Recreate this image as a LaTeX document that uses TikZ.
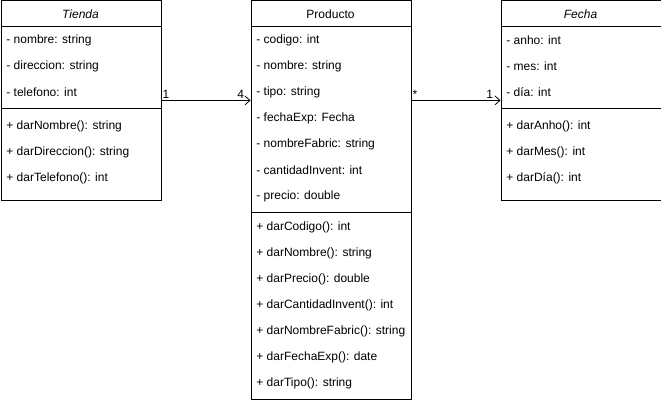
\documentclass[tikz,border=0pt]{standalone}
\usepackage{fontspec}
\setmainfont{Liberation Sans}
\usetikzlibrary{arrows.meta}

\begin{document}
\begin{tikzpicture}[x=1pt, y=-1pt, line width=0.8pt,
        font=\fontsize{12}{14}\selectfont,
        classbox/.style={draw, rectangle, minimum width=160pt, anchor=north west, inner sep=0pt},
        classname/.style={anchor=center, inner sep=0pt},
        member/.style={anchor=west, inner sep=0pt},
        mult/.style={inner sep=1pt},
        assoc/.style={-{Straight Barb[length=5pt, width=9pt]}}]
    \useasboundingbox (0,0) rectangle (661,401);

    % Tienda
    \node[classbox, minimum height=199pt] at (0.5,0.5)   (tienda) {};
    \node[classname] at (80.5,14)   (tiendaname) {\textit{Tienda}};
    \draw (0.5,26.5) -- (160.5,26.5);
    \draw (0.5,108.5) -- (160.5,108.5);
    \node[member] at (6,40)    (t1) {- nombre: string};
    \node[member] at (6,66)    (t2) {- direccion: string};
    \node[member] at (6,92)    (t3) {- telefono: int};
    \node[member] at (6,126)   (t4) {+ darNombre(): string};
    \node[member] at (6,152)   (t5) {+ darDireccion(): string};
    \node[member] at (6,178)   (t6) {+ darTelefono(): int};

    % Producto
    \node[classbox, minimum height=398pt] at (250.5,0.5)   (producto) {};
    \node[classname] at (330.5,14)   (productoname) {Producto};
    \draw (250.5,26.5) -- (410.5,26.5);
    \draw (250.5,212.5) -- (410.5,212.5);
    \node[member] at (256,40)    (p1) {- codigo: int};
    \node[member] at (256,66)    (p2) {- nombre: string};
    \node[member] at (256,92)    (p3) {- tipo: string};
    \node[member] at (256,118)   (p4) {- fechaExp: Fecha};
    \node[member] at (256,144)   (p5) {- nombreFabric: string};
    \node[member] at (256,170)   (p6) {- cantidadInvent: int};
    \node[member] at (256,196)   (p7) {- precio: double};
    \node[member] at (256,227)   (p8) {+ darCodigo(): int};
    \node[member] at (256,253)   (p9) {+ darNombre(): string};
    \node[member] at (256,279)   (p10) {+ darPrecio(): double};
    \node[member] at (256,305)   (p11) {+ darCantidadInvent(): int};
    \node[member] at (256,331)   (p12) {+ darNombreFabric(): string};
    \node[member] at (256,357)   (p13) {+ darFechaExp(): date};
    \node[member] at (256,383)   (p14) {+ darTipo(): string};

    % Fecha
    \node[classbox, minimum height=199pt] at (500.5,0.5)   (fecha) {};
    \node[classname] at (580.5,14)   (fechaname) {\textit{Fecha}};
    \draw (500.5,26.5) -- (660.5,26.5);
    \draw (500.5,108.5) -- (660.5,108.5);
    \node[member] at (506,40)    (f1) {- anho: int};
    \node[member] at (506,66)    (f2) {- mes: int};
    \node[member] at (506,92)    (f3) {- día: int};
    \node[member] at (506,126)   (f4) {+ darAnho(): int};
    \node[member] at (506,152)   (f5) {+ darMes(): int};
    \node[member] at (506,178)   (f6) {+ darDía(): int};

    % associations
    \draw[assoc] (tienda.east) -- (tienda.east -| producto.west)
        node[mult, pos=0, anchor=south west] (mtienda) {1}
        node[mult, pos=1, anchor=south east, xshift=-5pt] (mproducto) {4};
    \draw[assoc] (fecha.west -| producto.east) -- (fecha.west)
        node[mult, pos=0, anchor=south west] (mfechaexp) {*}
        node[mult, pos=1, anchor=south east, xshift=-6pt] (mfecha) {1};
\end{tikzpicture}
\end{document}
